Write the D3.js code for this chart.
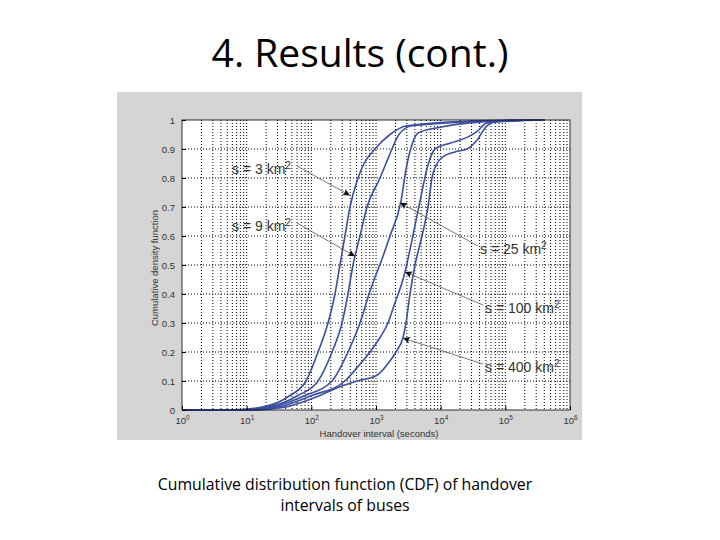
<!DOCTYPE html>
<meta charset="utf-8">
<style>
body { margin: 0; background: #fff; }
.title { font: 39px "Open Sans", Lato, sans-serif; fill: #000; }
.caption { font: 15.8px "Open Sans", Lato, sans-serif; fill: #000; }
.tick text, .axlabel { font: 9.5px "Liberation Sans", Arial, sans-serif; fill: #333; }
.grid line { stroke: #000; stroke-width: 1; stroke-dasharray: 1,2; }
.line { fill: none; stroke: #3d4f9e; stroke-width: 1.6px; }
.note { font: 14px "Liberation Sans", Arial, sans-serif; fill: #333; }
</style>
<svg width="720" height="540"></svg>
<script src="https://cdn.jsdelivr.net/npm/d3@7"></script>
<script>

// values: [handover interval (s), cdf]
var cdf3 = [[1,0],[5.5,0],[17.3,0.01],[46.8,0.05],[83,0.1],[127,0.2],[181,0.3],[232,0.4],
  [277,0.5],[331,0.6],[396,0.7],[527,0.8],[652,0.85],[964,0.9],[1645,0.95],[3015,0.98],
  [57900,0.998],[410000,1]];
var cdf9 = [[1,0],[7.9,0],[21.4,0.01],[62,0.05],[127,0.1],[209,0.2],[298,0.3],[369,0.4],
  [441,0.5],[565,0.6],[726,0.7],[1153,0.8],[1427,0.85],[1767,0.9],[2266,0.95],[3603,0.98],
  [82600,0.998],[410000,1]];
var cdf25 = [[1,0],[9.4,0],[24.6,0.01],[80,0.05],[209,0.1],[369,0.2],[565,0.3],[807,0.41],
  [1283,0.53],[1645,0.6],[2434,0.72],[2910,0.83],[3603,0.915],[4460,0.955],[9770,0.975],
  [28400,0.99],[82600,0.997],[410000,1]];
var cdf100 = [[1,0],[11.3,0],[30.5,0.01],[102,0.05],[331,0.1],[527,0.15],[807,0.2],[1153,0.25],
  [1532,0.3],[1832,0.35],[2808,0.476],[3603,0.586],[4790,0.72],[6370,0.845],[8170,0.9],
  [13900,0.92],[25600,0.94],[36400,0.96],[52000,0.99],[410000,1]];
var cdf400 = [[1,0],[11.3,0],[39.1,0.01],[136,0.05],[277,0.08],[508,0.1],[1036,0.12],
  [1532,0.16],[2037,0.2],[2615,0.25],[2910,0.3],[3355,0.4],[4010,0.5],[5140,0.6],[6370,0.7],
  [7340,0.8],[8770,0.85],[10480,0.87],[16640,0.89],[25600,0.9],[36400,0.93],[52000,0.98],
  [82600,0.997],[410000,1]];
var series = [cdf3, cdf9, cdf25, cdf100, cdf400];

var yTicks = [0, 0.1, 0.2, 0.3, 0.4, 0.5, 0.6, 0.7, 0.8, 0.9, 1];
var xExponents = [0, 1, 2, 3, 4, 5, 6];

// annotations: label, point on the curve, where the label sits
var notes = [
  {area: "3",   at: [396, 0.74],   tx: 232, ty: 174, side: "left"},
  {area: "9",   at: [473, 0.53],   tx: 232, ty: 231, side: "left"},
  {area: "25",  at: [2350, 0.715], tx: 480, ty: 254, side: "right"},
  {area: "100", at: [2808, 0.476], tx: 485, ty: 313, side: "right"},
  {area: "400", at: [2615, 0.248], tx: 485, ty: 372, side: "right"}
];

var svg = d3.select("svg");

svg.append("text").attr("class", "title")
    .attr("x", 360).attr("y", 67).attr("text-anchor", "middle")
    .text("4. Results (cont.)");

// grey figure background
svg.append("rect").attr("x", 117).attr("y", 92).attr("width", 465).attr("height", 348)
    .attr("fill", "#d5d5d5");

var margin = {top: 120, left: 182},
    width = 388,
    height = 290;

var g = svg.append("g").attr("transform", "translate(" + margin.left + "," + margin.top + ")");

var x = d3.scaleLog().domain([1, 1e6]).range([0, width]),
    y = d3.scaleLinear().domain([0, 1]).range([height, 0]);

g.append("rect").attr("width", width).attr("height", height).attr("fill", "#fff");

// log grid: every 1..9 of each decade
var xGrid = [];
xExponents.slice(0, -1).forEach(function(e) {
  for (var k = 1; k < 10; k++) xGrid.push(k * Math.pow(10, e));
});

g.append("g").attr("class", "grid")
  .selectAll("line").data(xGrid.slice(1)).enter().append("line")
    .attr("x1", function(d) { return x(d); }).attr("x2", function(d) { return x(d); })
    .attr("y1", 0).attr("y2", height);

g.append("g").attr("class", "grid")
  .selectAll("line").data(yTicks.slice(1, -1)).enter().append("line")
    .attr("x1", 0).attr("x2", width)
    .attr("y1", function(d) { return y(d); }).attr("y2", function(d) { return y(d); });

var line = d3.line()
    .curve(d3.curveMonotoneX)
    .x(function(d) { return x(d[0]); })
    .y(function(d) { return y(d[1]); });

g.selectAll(".line").data(series).enter().append("path")
    .attr("class", "line")
    .attr("d", line);

// frame
g.append("rect").attr("width", width).attr("height", height)
    .attr("fill", "none").attr("stroke", "#000").attr("stroke-width", 0.8);

// y axis
var yAxis = g.append("g")
    .call(d3.axisLeft(y).tickValues(yTicks).tickSize(-4).tickPadding(7)
      .tickFormat(function(d) { return d === 0 || d === 1 ? d : d3.format(".1f")(d); }));
yAxis.select(".domain").remove();
yAxis.selectAll("line").attr("stroke", "#000");

// x axis with 10^n labels
var xAxis = g.append("g").attr("transform", "translate(0," + height + ")")
    .call(d3.axisBottom(x).tickValues(xExponents.map(function(e) { return Math.pow(10, e); }))
      .tickSize(-4).tickPadding(7).tickFormat(""));
xAxis.select(".domain").remove();
xAxis.selectAll("line").attr("stroke", "#000");
xAxis.selectAll(".tick text").each(function(d) {
  var t = d3.select(this);
  t.append("tspan").text("10");
  t.append("tspan").attr("dy", "-0.5em").attr("font-size", "6.5px").text(Math.round(Math.log10(d)));
});

g.append("text").attr("class", "axlabel")
    .attr("x", width / 2 + 3).attr("y", height + 27).attr("text-anchor", "middle")
    .text("Handover interval (seconds)");

g.append("text").attr("class", "axlabel")
    .attr("transform", "translate(-24," + (height / 2 + 3) + ") rotate(-90)")
    .attr("text-anchor", "middle")
    .text("Cumulative density function");

// arrowhead
svg.append("defs").append("marker")
    .attr("id", "head").attr("viewBox", "0 0 10 10")
    .attr("refX", 10).attr("refY", 5)
    .attr("markerWidth", 11).attr("markerHeight", 7)
    .attr("markerUnits", "userSpaceOnUse")
    .attr("orient", "auto")
  .append("path").attr("d", "M0,0L10,5L0,10L2,5z").attr("fill", "#111");

var note = svg.selectAll(".note").data(notes).enter().append("g");

note.append("text").attr("class", "note")
    .attr("x", function(d) { return d.tx; })
    .attr("y", function(d) { return d.ty; })
    .each(function(d) {
      var t = d3.select(this);
      t.append("tspan").text("s = " + d.area + " km");
      t.append("tspan").attr("dy", "-0.55em").attr("font-size", "10px").text("2");
    });

note.append("line")
    .attr("x1", function(d) { return d.side === "left" ? d.tx + 65 : d.tx - 2; })
    .attr("y1", function(d) { return d.ty - 8; })
    .attr("x2", function(d) { return margin.left + x(d.at[0]); })
    .attr("y2", function(d) { return margin.top + y(d.at[1]); })
    .attr("stroke", "#555").attr("stroke-width", 0.8)
    .attr("marker-end", "url(#head)");

var caption = svg.append("text").attr("class", "caption").attr("text-anchor", "middle");
caption.append("tspan").attr("x", 345).attr("y", 490)
    .text("Cumulative distribution function (CDF) of handover");
caption.append("tspan").attr("x", 345).attr("y", 511)
    .text("intervals of buses");

</script>
